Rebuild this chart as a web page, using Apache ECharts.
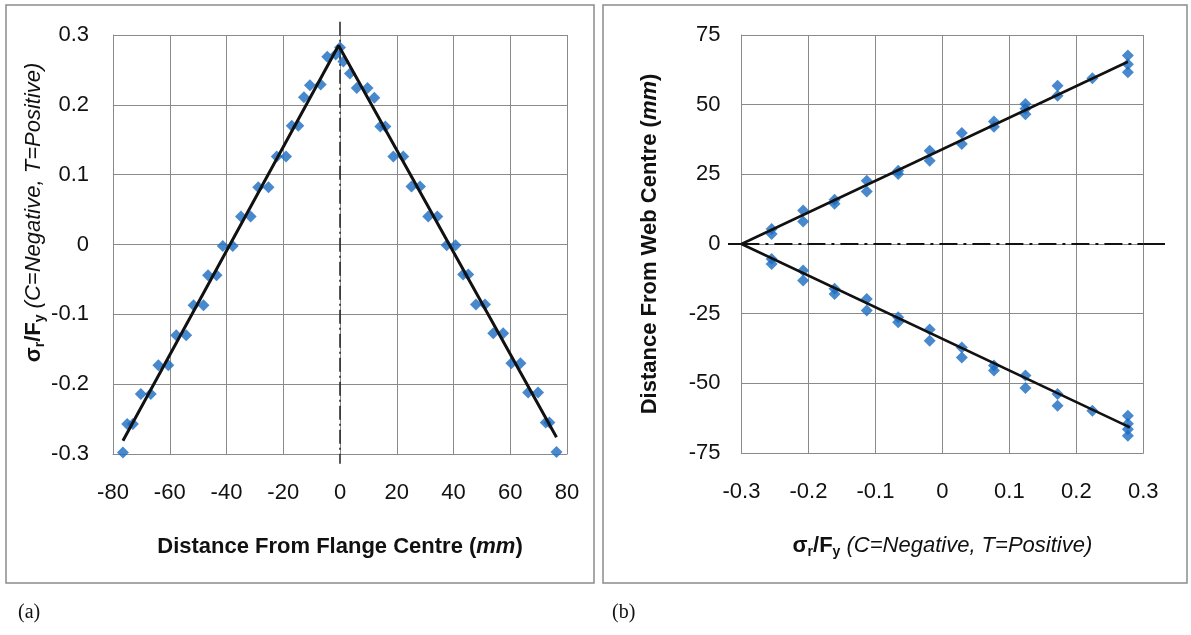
<!DOCTYPE html>
<html>
<head>
<meta charset="utf-8">
<script src="https://cdn.jsdelivr.net/npm/echarts@6/dist/echarts.min.js"></script>
<style>
html,body{margin:0;padding:0;background:#fff;}
#c{width:1191px;height:635px;}
</style>
</head>
<body>
<div id="c"></div>
<script>
// ---- Panel (a): residual stress across flange ----
var flangeX = [-76.5,-75,-73,-70.2,-66.7,-64,-60.5,-57.7,-54.2,-51.6,-48.1,-46.5,-43.5,-41.3,-37.8,-34.9,-31.5,-28.8,-25.2,-22.3,-19,-17,-14.7,-12.7,-10.6,-6.8,-4.5,-1.5,0,1.2,3.5,5.9,9.7,12.1,14.2,16,18.8,22.3,25.2,28.2,31.1,34.3,37.6,40.7,43.4,45.2,47.9,51.1,54,57.5,60.4,63.6,66.3,69.8,72.5,73.8,76.3];
var flangeSigma = [-0.298,-0.257,-0.257,-0.214,-0.214,-0.173,-0.173,-0.13,-0.13,-0.087,-0.087,-0.044,-0.044,-0.002,-0.002,0.040,0.040,0.082,0.082,0.126,0.126,0.17,0.17,0.211,0.228,0.229,0.269,0.272,0.282,0.262,0.245,0.224,0.224,0.21,0.169,0.169,0.126,0.126,0.083,0.083,0.040,0.040,-0.001,-0.001,-0.043,-0.043,-0.086,-0.086,-0.127,-0.127,-0.17,-0.17,-0.212,-0.212,-0.255,-0.255,-0.297];
var flangeFitX = [-76.5,-0.5,76.3];
var flangeFitSigma = [-0.281,0.285,-0.276];
var flangeCentreX = [0,0];
var flangeCentreSigma = [0.319,-0.314];
var flangeTicksX = [-80,80,20];
var flangeTicksSigma = [-0.3,0.3,0.1];

// ---- Panel (b): residual stress across web ----
var webTopSigma = [-0.255,-0.255,-0.208,-0.208,-0.161,-0.161,-0.113,-0.113,-0.066,-0.066,-0.019,-0.019,0.029,0.029,0.077,0.077,0.124,0.124,0.124,0.172,0.172,0.224,0.277,0.277,0.277];
var webTopDist = [5.4,3.6,12.0,8.1,15.9,14.4,22.7,18.8,26.3,25.1,33.5,29.9,39.8,35.9,44.0,42.1,50.2,48.5,46.6,56.8,53.2,59.5,67.6,64.5,61.6];
var webBotSigma = [-0.255,-0.255,-0.208,-0.208,-0.161,-0.161,-0.113,-0.113,-0.066,-0.066,-0.019,-0.019,0.029,0.029,0.077,0.077,0.124,0.124,0.172,0.172,0.224,0.277,0.277,0.277,0.277];
var webBotDist = [-5.4,-7.2,-9.5,-13.1,-16.1,-17.9,-19.7,-23.9,-26.3,-28.1,-30.7,-34.7,-37.1,-40.7,-43.6,-45.4,-47.2,-51.7,-53.8,-58.0,-59.8,-61.6,-64.5,-66.5,-68.8];
var webTopFitSigma = [-0.3,0.277];
var webTopFitDist = [0,65.4];
var webBotFitSigma = [-0.3,0.28];
var webBotFitDist = [0,-65.8];
var webZeroSigma = [-0.320,-0.3,0.3,0.332];
var webZeroDist = [0,0,0,0];
var webTicksSigma = [-0.3,0.3,0.1];
var webTicksDist = [-75,75,25];
var webZeroExtent = [-0.320,0.332];

function zip(a,b){ return a.map(function(v,i){ return [v,b[i]]; }); }

var BLUE = '#1a6cc2';
var GRIDC = '#8a8a8a';
var TXT = '#111';
var FONT = 'Liberation Sans, Arial, sans-serif';

var nameRich = {
  b:{fontFamily:FONT,fontWeight:'bold',fontSize:22,color:TXT,lineHeight:26},
  bs:{fontFamily:FONT,fontWeight:'bold',fontSize:14,color:TXT,lineHeight:26,verticalAlign:'bottom'},
  i:{fontFamily:FONT,fontStyle:'italic',fontSize:22,color:TXT,lineHeight:26},
  bi:{fontFamily:FONT,fontStyle:'italic',fontWeight:'bold',fontSize:22,color:TXT,lineHeight:26}
};
var sigmaName = '{b|σ}{bs|r}{b|/F}{bs|y}{i| (C=Negative, T=Positive)}';

function valAxis(t, extra){
  var o = {
    type:'value', min:t[0], max:t[1], interval:t[2],
    axisLine:{show:true,onZero:false,lineStyle:{color:GRIDC,width:1}},
    axisTick:{show:false},
    splitLine:{show:true,lineStyle:{color:GRIDC,width:1}},
    axisLabel:{fontFamily:FONT,fontSize:22,color:TXT},
    nameLocation:'middle',
    nameTextStyle:{rich:nameRich}
  };
  for (var k in extra) o[k]=extra[k];
  return o;
}
function hiddenAxis(gi, mn, mx){
  return {type:'value',gridIndex:gi,min:mn,max:mx,show:false,splitLine:{show:false},axisLine:{show:false},axisLabel:{show:false},axisTick:{show:false}};
}

var chart = echarts.init(document.getElementById('c'), null, {renderer:'canvas'});
chart.setOption({
  animation:false,
  backgroundColor:'#fff',
  graphic:[
    {type:'rect',shape:{x:6,y:5,width:588,height:578},style:{fill:'none',stroke:'#8c8c8c',lineWidth:1.5},z:-1},
    {type:'rect',shape:{x:603,y:5,width:584,height:578},style:{fill:'none',stroke:'#8c8c8c',lineWidth:1.5},z:-1},
    {type:'text',left:18,top:603,style:{text:'(a)',font:'20px "Liberation Serif", "Times New Roman", serif',fill:'#111'}},
    {type:'text',left:612,top:603,style:{text:'(b)',font:'20px "Liberation Serif", "Times New Roman", serif',fill:'#111'}}
  ],
  grid:[
    {left:113,right:624,top:35,bottom:181},
    {left:741.5,right:47.7,top:35,bottom:182},
    {left:728,right:26,top:35,bottom:182}
  ],
  xAxis:[
    valAxis(flangeTicksX,{gridIndex:0,name:'{b|Distance From Flange Centre (}{bi|mm}{b|)}',nameGap:80,
      axisLabel:{fontFamily:FONT,fontSize:22,color:TXT,margin:28}}),
    valAxis(webTicksSigma,{gridIndex:1,name:sigmaName,nameGap:80,
      axisLabel:{fontFamily:FONT,fontSize:22,color:TXT,margin:28,formatter:function(v){return String(Math.round(v*10)/10);}}}),
    hiddenAxis(2, webZeroExtent[0], webZeroExtent[1])
  ],
  yAxis:[
    valAxis(flangeTicksSigma,{gridIndex:0,name:sigmaName,nameGap:66,
      nameTextStyle:{rich:nameRich,padding:[0,0,0,64]},
      axisLabel:{fontFamily:FONT,fontSize:22,color:TXT,margin:24,formatter:function(v){return String(Math.round(v*10)/10);}}}),
    valAxis(webTicksDist,{gridIndex:1,name:'{b|Distance From Web Centre (}{bi|mm}{b|)}',nameGap:79,
      axisLabel:{fontFamily:FONT,fontSize:22,color:TXT,margin:21}}),
    hiddenAxis(2, webTicksDist[0], webTicksDist[1])
  ],
  series:[
    {type:'line',xAxisIndex:0,yAxisIndex:0,data:zip(flangeCentreX,flangeCentreSigma),clip:false,symbol:'none',
      lineStyle:{color:'#222',width:1.5,type:[14,4,2,4]},z:1},
    {type:'scatter',xAxisIndex:0,yAxisIndex:0,data:zip(flangeX,flangeSigma),symbol:'diamond',symbolSize:[12,12],
      itemStyle:{color:BLUE},z:2},
    {type:'line',xAxisIndex:0,yAxisIndex:0,data:zip(flangeFitX,flangeFitSigma),symbol:'none',
      lineStyle:{color:'#111',width:3},z:3},

    {type:'line',xAxisIndex:2,yAxisIndex:2,data:zip(webZeroSigma.slice(0,2),webZeroDist.slice(0,2)),symbol:'none',
      lineStyle:{color:'#111',width:2},z:1},
    {type:'line',xAxisIndex:2,yAxisIndex:2,data:zip(webZeroSigma.slice(1,3),webZeroDist.slice(1,3)),symbol:'none',
      lineStyle:{color:'#111',width:2,type:[18,6,3,6]},z:1},
    {type:'line',xAxisIndex:2,yAxisIndex:2,data:zip(webZeroSigma.slice(2,4),webZeroDist.slice(2,4)),symbol:'none',
      lineStyle:{color:'#111',width:2},z:1},
    {type:'scatter',xAxisIndex:1,yAxisIndex:1,data:zip(webTopSigma,webTopDist),symbol:'diamond',symbolSize:[12,12],
      itemStyle:{color:BLUE},z:2},
    {type:'scatter',xAxisIndex:1,yAxisIndex:1,data:zip(webBotSigma,webBotDist),symbol:'diamond',symbolSize:[12,12],
      itemStyle:{color:BLUE},z:2},
    {type:'line',xAxisIndex:1,yAxisIndex:1,data:zip(webTopFitSigma,webTopFitDist),symbol:'none',clip:false,
      lineStyle:{color:'#111',width:2.5},z:3},
    {type:'line',xAxisIndex:1,yAxisIndex:1,data:zip(webBotFitSigma,webBotFitDist),symbol:'none',clip:false,
      lineStyle:{color:'#111',width:2.5},z:3}
  ]
});
</script>
</body>
</html>
